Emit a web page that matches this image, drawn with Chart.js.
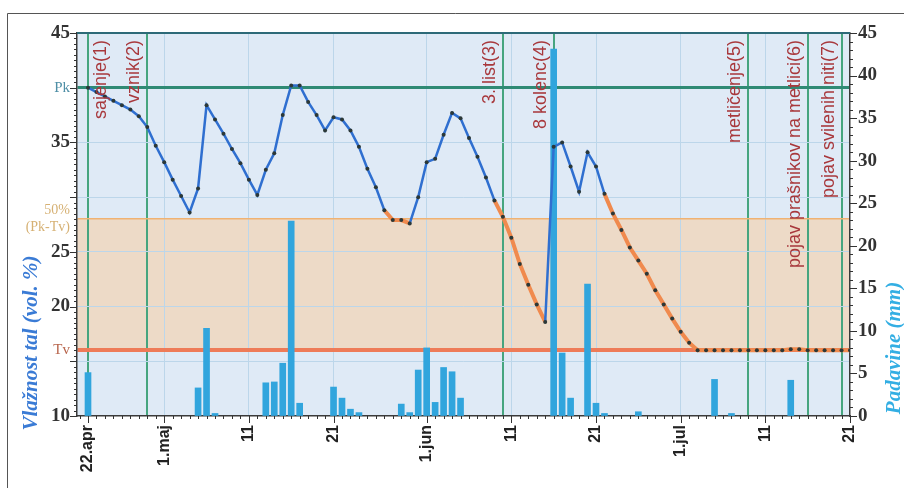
<!DOCTYPE html>
<html><head><meta charset="utf-8">
<script src="https://cdn.jsdelivr.net/npm/chart.js@4.4.1/dist/chart.umd.min.js"></script>
<style>html,body{margin:0;padding:0;background:#fff;}#wrap{width:904px;height:488px;position:relative;}</style>
</head><body><div id="wrap"><canvas id="c" width="904" height="488"></canvas></div>
<script>
// ---- data ----
const tickDays   = [0, 9, 19, 29, 40, 50, 60, 70, 80, 90];
const tickLabels = ['22.apr', '1.maj', '11', '21', '1.jun', '11', '21', '1.jul', '11', '21'];

const PK = 40, TV = 16, HALF = 28;   // reference levels (vol. %)

// soil moisture, one value per day starting 22 Apr (day 0) to 21 Jul (day 90)
const moisture = [
  40.0, 39.6, 39.2, 38.8, 38.4, 38.0, 37.4, 36.4, 34.7, 33.2,
  31.6, 30.1, 28.6, 30.8, 38.4, 37.1, 35.8, 34.4, 33.1, 31.6,
  30.2, 32.5, 34.0, 37.5, 40.2, 40.2, 38.7, 37.5, 36.1, 37.3,
  37.1, 36.1, 34.6, 32.6, 30.9, 28.8, 27.9, 27.9, 27.6, 30.0,
  33.2, 33.5, 35.7, 37.7, 37.2, 35.4, 33.7, 31.8, 29.7, 28.2,
  26.3, 23.9, 22.0, 20.2, 18.6, 34.6, 35.0, 32.8, 30.5, 34.1,
  32.8, 30.3, 28.5, 27.0, 25.4, 24.2, 23.0, 21.5, 20.2, 18.9,
  17.7, 16.7, 16.0, 16.0, 16.0, 16.0, 16.0, 16.0, 16.0, 16.0,
  16.0, 16.0, 16.0, 16.1, 16.1, 16.0, 16.0, 16.0, 16.0, 16.0,
  16.0
];

// precipitation (mm)
const rainDays = [0, 13, 14, 15, 21, 22, 23, 24, 25, 29, 30, 31, 32, 37, 38, 39, 40, 41, 42, 43, 44, 55, 56, 57, 59, 60, 61, 65, 74, 76, 83];
const rainMm   = [5.1, 3.3, 10.3, 0.3, 3.9, 4.0, 6.2, 22.9, 1.5, 3.4, 2.1, 0.8, 0.4, 1.4, 0.4, 5.4, 8.0, 1.6, 5.7, 5.2, 2.1, 43.1, 7.4, 2.1, 15.5, 1.5, 0.3, 0.5, 4.3, 0.3, 4.2];

// phenological stages
const stageDays  = [0, 7, 49, 55, 78, 85, 89];
const stageNames = ['sajenje(1)', 'vznik(2)', '3. list(3)', '8 kolenc(4)', 'metličenje(5)', 'pojav prašnikov na metlici(6)', 'pojav svilenih niti(7)'];

const leftTicks = [10, 15, TV, 20, 25, HALF, 30, 35, PK, 45];
const leftLabels = {10:'10', 20:'20', 25:'25', 35:'35', 45:'45'};
leftLabels[PK] = 'Pk'; leftLabels[TV] = 'Tv'; leftLabels[HALF] = ['50%', '(Pk-Tv)'];

// ---- chart ----
const SANS = '"Liberation Sans", Arial, sans-serif';
const SERIF = '"Liberation Serif", "Times New Roman", serif';

const xTicks = Array.from(new Set(tickDays.concat(stageDays))).sort((a,b)=>a-b);
const tv = c => (c && c.tick) ? c.tick.value : null;

const decor = {
  id: 'decor',
  beforeDraw(chart) {
    const {ctx, chartArea: a, scales} = chart;
    const y = scales.y;
    ctx.save();
    ctx.fillStyle = '#dfeaf6';
    ctx.fillRect(a.left, a.top, a.right - a.left, a.bottom - a.top);
    const yT = y.getPixelForValue(HALF), yB = y.getPixelForValue(TV);
    ctx.fillStyle = '#eddac7';
    ctx.fillRect(a.left, yT, a.right - a.left, yB - yT);
    ctx.strokeStyle = '#555'; ctx.lineWidth = 1;
    ctx.beginPath(); ctx.moveTo(7.5, 488); ctx.lineTo(7.5, 13.5); ctx.lineTo(904, 13.5); ctx.stroke();
    ctx.restore();
  },
  afterDatasetsDraw(chart) {
    const {ctx, chartArea: a, scales} = chart;
    const x = scales.x, y = scales.y, y2 = scales.y2;
    ctx.save();
    ctx.strokeStyle = '#2d6a78'; ctx.lineWidth = 2;
    ctx.beginPath(); ctx.moveTo(a.left, a.top); ctx.lineTo(a.right, a.top); ctx.stroke();
    ctx.strokeStyle = '#333'; ctx.lineWidth = 1;
    ctx.beginPath();
    for (let d = -1; d <= 90; d++) {
      const px = Math.round(x.getPixelForValue(d)) + 0.5;
      const len = tickDays.includes(d) ? 7 : 3;
      ctx.moveTo(px, a.bottom); ctx.lineTo(px, a.bottom + len);
    }
    for (let v = 10; v <= 45; v += 0.5) {
      const py = Math.round(y.getPixelForValue(v)) + 0.5;
      const len = v % 5 === 0 ? 7 : 3;
      ctx.moveTo(a.left, py); ctx.lineTo(a.left - len, py);
    }
    for (let v = 0; v <= 45; v += 1) {
      const py = Math.round(y2.getPixelForValue(v)) + 0.5;
      const len = v % 5 === 0 ? 7 : 3;
      ctx.moveTo(a.right, py); ctx.lineTo(a.right + len, py);
    }
    ctx.stroke();
    ctx.font = '18px ' + SANS;
    ctx.fillStyle = '#a8383c';
    ctx.textAlign = 'right'; ctx.textBaseline = 'middle';
    stageDays.forEach((d, i) => {
      const px = x.getPixelForValue(d);
      const off = i === 0 ? 13 : -13;
      ctx.save();
      ctx.translate(px + off, a.top + 7);
      ctx.rotate(-Math.PI / 2);
      ctx.fillText(stageNames[i], 0, 0);
      ctx.restore();
    });
    ctx.textAlign = 'center';
    ctx.font = 'italic bold 21px ' + SERIF;
    ctx.fillStyle = '#3a7bd5';
    ctx.save(); ctx.translate(32, 343); ctx.rotate(-Math.PI / 2); ctx.fillText('Vlažnost tal (vol. %)', 0, 0); ctx.restore();
    ctx.fillStyle = '#33aee3';
    ctx.save(); ctx.translate(895, 348); ctx.rotate(-Math.PI / 2); ctx.fillText('Padavine (mm)', 0, 0); ctx.restore();
    ctx.restore();
  }
};

const isLow = c => c.p1.parsed.y < 28.6 && c.p1.parsed.y <= c.p0.parsed.y + 0.15;

new Chart(document.getElementById('c'), {
  type: 'line',
  data: {
    datasets: [
      {
        type: 'line',
        data: moisture.map((v, i) => ({x: i, y: v})),
        yAxisID: 'y',
        order: 0,
        borderColor: '#2f6fd0',
        borderWidth: 2.5,
        tension: 0,
        pointRadius: 2,
        pointBorderWidth: 0,
        pointBackgroundColor: '#2b3838',
        segment: {
          borderColor: c => isLow(c) ? '#f08a4e' : '#2f6fd0',
          borderWidth: c => isLow(c) ? 4 : 2.5
        }
      },
      {
        type: 'bar',
        data: rainDays.map((d, i) => ({x: d, y: rainMm[i]})),
        yAxisID: 'y2',
        order: 1,
        backgroundColor: '#31a5dd',
        borderWidth: 0,
        barThickness: 6
      }
    ]
  },
  plugins: [decor],
  options: {
    responsive: false,
    animation: false,
    events: [],
    layout: {padding: {top: 33, left: 0, right: 0, bottom: 0}},
    plugins: {legend: {display: false}, tooltip: {enabled: false}},
    scales: {
      x: {
        type: 'linear', min: -1.3, max: 90, offset: false,
        afterBuildTicks: s => { s.ticks = xTicks.map(v => ({value: v})); },
        afterFit: s => { s.height = 72; },
        border: {display: true, color: '#3a3a3a', width: 1.5},
        grid: {
          offset: false, drawTicks: false,
          color: c => { const v = tv(c); return stageDays.includes(v) ? '#46a57f' : (v === 90 ? 'transparent' : '#bcd6ea'); },
          lineWidth: c => stageDays.includes(tv(c)) ? 2 : 1
        },
        ticks: {
          autoSkip: false, maxRotation: 90, minRotation: 90, padding: 9,
          color: '#222',
          font: {family: SANS, size: 16, weight: 'bold'},
          callback: v => { const k = tickDays.indexOf(v); return k >= 0 ? tickLabels[k] : ''; }
        }
      },
      y: {
        type: 'linear', position: 'left', min: 10, max: 45,
        afterBuildTicks: s => { s.ticks = leftTicks.map(v => ({value: v})); },
        afterFit: s => { s.width = 77; },
        border: {display: true, color: '#3a3a3a', width: 1.5},
        grid: {
          drawTicks: false,
          color: c => { const v = tv(c);
            if (v === PK) return '#2f8a74'; if (v === TV) return '#ee7b58'; if (v === HALF) return '#f0b272';
            if (v === 10 || v === 45 || v === null) return 'transparent'; return '#bcd6ea'; },
          lineWidth: c => { const v = tv(c); return v === PK ? 3 : v === TV ? 4 : v === HALF ? 1.5 : 1; }
        },
        ticks: {
          autoSkip: false, padding: 7,
          callback: v => leftLabels[v] !== undefined ? leftLabels[v] : '',
          color: c => { const v = tv(c); return v === PK ? '#4f8fa6' : v === TV ? '#b8654c' : v === HALF ? '#d6b174' : '#333'; },
          font: c => { const v = tv(c);
            if (v === PK || v === TV) return {family: SERIF, size: 15};
            if (v === HALF) return {family: SERIF, size: 14, lineHeight: 1.25};
            return {family: SERIF, size: 19, weight: 'bold'}; }
        }
      },
      y2: {
        type: 'linear', position: 'right', min: 0, max: 45,
        afterBuildTicks: s => { const t = []; for (let v = 0; v <= 45; v += 5) t.push({value: v}); s.ticks = t; },
        afterFit: s => { s.width = 54; },
        border: {display: true, color: '#3a3a3a', width: 1.5},
        grid: {drawOnChartArea: false, drawTicks: false},
        ticks: {
          autoSkip: false, padding: 8, color: '#333',
          font: {family: SERIF, size: 19, weight: 'bold'}
        }
      }
    }
  }
});
</script>
</body></html>
